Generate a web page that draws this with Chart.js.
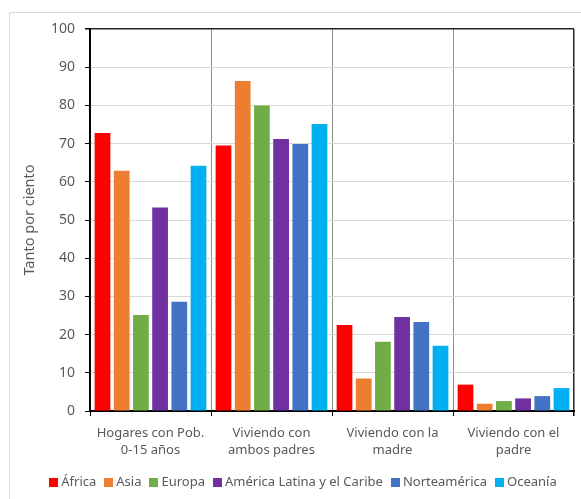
<!DOCTYPE html>
<html>
<head>
<meta charset="utf-8">
<script src="https://cdn.jsdelivr.net/npm/chart.js@4/dist/chart.umd.min.js"></script>
<style>
  html, body { margin: 0; padding: 0; background: #fff; }
  #c { display: block; }
</style>
</head>
<body>
<canvas id="c" width="581" height="499"></canvas>
<script>
// Household living arrangements of children, by world region (percent)
const categories = [
  ["Hogares con Pob.", "0-15 años"],
  ["Viviendo con", "ambos padres"],
  ["Viviendo con la", "madre"],
  ["Viviendo con el", "padre"]
];
const regions = ["África", "Asia", "Europa", "América Latina y el Caribe", "Norteamérica", "Oceanía"];
const regionColors = ["#FF0000", "#ED7D31", "#70AD47", "#7030A0", "#4472C4", "#00B0F0"];

const africa        = [72.8, 69.5, 22.5, 6.9];
const asia          = [62.9, 86.4,  8.5, 1.9];
const europa        = [25.1, 80.0, 18.1, 2.6];
const latinoamerica = [53.3, 71.2, 24.6, 3.3];
const norteamerica  = [28.6, 69.9, 23.3, 3.9];
const oceania       = [64.2, 75.1, 17.1, 6.0];

const seriesValues = [africa, asia, europa, latinoamerica, norteamerica, oceania];
const yMin = 0, yMax = 100, yStep = 10;

const FONT = "'Noto Sans', 'Open Sans', sans-serif";
const TEXT = "#595959";

// Light frame around the figure
const framePlugin = {
  id: "frame",
  beforeDraw(chart) {
    const ctx = chart.ctx;
    ctx.save();
    ctx.strokeStyle = "#d9d9d9";
    ctx.lineWidth = 1;
    ctx.beginPath();
    ctx.moveTo(9.5, chart.height);
    ctx.lineTo(9.5, 12.5);
    ctx.lineTo(chart.width, 12.5);
    ctx.stroke();
    ctx.restore();
  }
};

// Compact legend row under the axis labels
const legendRowPlugin = {
  id: "legendRow",
  afterDraw(chart) {
    const ctx = chart.ctx;
    const box = 9, gapText = 3, gapItem = 8;
    const cx = 303, cy = 482;
    ctx.save();
    ctx.font = "13px " + FONT;
    ctx.textBaseline = "middle";
    ctx.textAlign = "left";
    const items = chart.data.datasets.map(ds => ({
      label: ds.label, color: ds.backgroundColor, w: ctx.measureText(ds.label).width
    }));
    const total = items.reduce((s, it) => s + box + gapText + it.w, 0) + gapItem * (items.length - 1);
    let x = cx - total / 2;
    items.forEach(it => {
      ctx.fillStyle = it.color;
      ctx.fillRect(Math.round(x), Math.round(cy - box / 2), box, box);
      ctx.fillStyle = TEXT;
      ctx.fillText(it.label, x + box + gapText, cy + 0.5);
      x += box + gapText + it.w + gapItem;
    });
    ctx.restore();
  }
};

new Chart(document.getElementById("c"), {
  type: "bar",
  data: {
    labels: categories,
    datasets: regions.map((name, i) => ({
      label: name,
      data: seriesValues[i],
      backgroundColor: regionColors[i],
      borderWidth: 0,
      categoryPercentage: 0.952,
      barPercentage: 0.82
    }))
  },
  options: {
    responsive: false,
    animation: false,
    devicePixelRatio: 1,
    layout: { padding: { left: 0, right: 7, top: 29, bottom: 28 } },
    plugins: {
      legend: { display: false },
      tooltip: { enabled: false }
    },
    scales: {
      x: {
        grid: {
          offset: true,
          color: c => (c.type === "tick" ? "#8c8c8c" : "#262626"),
          lineWidth: c => (c.type === "tick" ? 1 : 1.5),
          tickColor: "#000",
          tickLength: 5
        },
        border: { color: "#000", width: 2 },
        ticks: {
          color: TEXT,
          font: { family: FONT, size: 13, lineHeight: 1.3 },
          padding: 9,
          maxRotation: 0,
          autoSkip: false
        },
        afterFit: s => { s.height = 60; }
      },
      y: {
        min: yMin,
        max: yMax,
        ticks: {
          stepSize: yStep,
          color: TEXT,
          font: { family: FONT, size: 14 },
          padding: 10
        },
        grid: {
          color: c => (c.tick && c.tick.value === yMax ? "#262626" : "#d9d9d9"),
          lineWidth: c => (c.tick && c.tick.value === yMax ? 1.5 : 1),
          tickColor: "#000",
          tickLength: 5
        },
        border: { color: "#000", width: 2 },
        title: {
          display: true,
          text: "Tanto por ciento",
          color: TEXT,
          font: { family: FONT, size: 14.5 },
          padding: { top: 21, bottom: 0 }
        },
        afterFit: s => { s.width = 90; }
      }
    }
  },
  plugins: [framePlugin, legendRowPlugin]
});
</script>
</body>
</html>
